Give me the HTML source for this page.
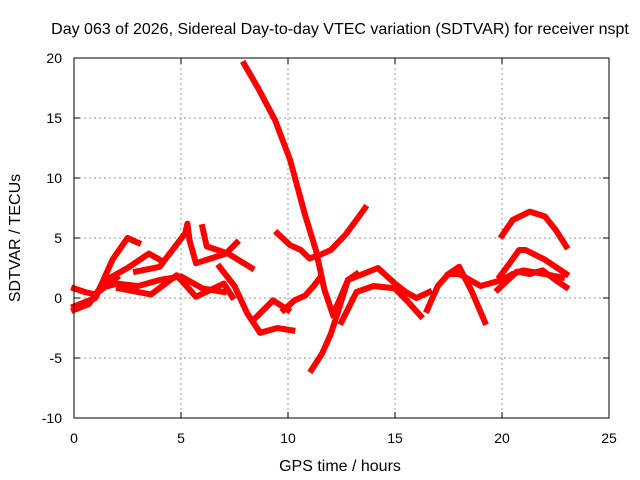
<!DOCTYPE html>
<html><head><meta charset="utf-8"><style>
body{margin:0;background:#fff}
svg{display:block;font-family:"Liberation Sans",sans-serif}
</style></head><body>
<svg id="chart" width="640" height="480" viewBox="0 0 640 480">
<text x="340" y="34" font-size="16" text-anchor="middle">Day 063 of 2026, Sidereal Day-to-day VTEC variation (SDTVAR) for receiver nspt</text>
<text transform="translate(20,238) rotate(-90)" font-size="16" text-anchor="middle">SDTVAR / TECUs</text>
<text x="340" y="471" font-size="16" text-anchor="middle">GPS time / hours</text>
<g id="grid"></g><g id="ticks"></g><g id="series"></g>
<rect x="74" y="58" width="535" height="360" fill="none" stroke="#000" stroke-width="1"/>
</svg>
<script>
const xTicks=[0,5,10,15,20,25];
const yTicks=[-10,-5,0,5,10,15,20];
const trackA_h=[7.95,8.6,9.4,10.1,10.8,11.3,11.7,12.1];
const trackA_v=[19.5,17.5,14.8,11.5,6.9,4.0,0.7,-1.4];
const trackB_h=[11.1,11.6,12.0,12.4,12.8,13.2];
const trackB_v=[-6.0,-4.6,-3.0,-0.8,1.5,2.0];
const trackC_h=[9.5,10.1,10.6,11.0,11.5,12.0,12.7,13.4,13.6];
const trackC_v=[5.4,4.4,4.0,3.3,3.6,4.0,5.3,7.0,7.5];
const trackD_h=[9.8,10.3,10.8,11.2,11.5];
const trackD_v=[-1.0,-0.2,0.2,1.0,1.7];
const trackE_h=[12.2,12.8,13.5,14.2,15.0,15.5,16.0,16.6];
const trackE_v=[-1.0,1.5,2.0,2.5,1.2,0.5,0.0,0.5];
const trackF_h=[12.5,13.2,14.0,15.0,15.6,16.2];
const trackF_v=[-2.0,0.5,1.0,0.8,-0.3,-1.5];
const trackG_h=[16.5,17.0,17.5,18.0,19.0,20.0,20.5,21.0,22.0,22.8];
const trackG_v=[-1.0,1.0,2.0,2.0,1.0,1.5,2.0,2.3,2.0,1.7];
const trackH_h=[20.0,20.5,21.3,22.0,22.5,23.0];
const trackH_v=[5.2,6.5,7.2,6.8,5.7,4.3];
const trackI_h=[19.9,20.4,20.8,21.1,22.0,23.0];
const trackI_v=[1.8,3.0,4.0,4.0,3.2,2.0];
const trackJ_h=[19.8,20.7,21.3,21.9,22.5,23.0];
const trackJ_v=[0.7,2.2,2.0,2.3,1.5,0.9];
const trackK_h=[17.5,18.0,18.6,19.2];
const trackK_v=[2.0,2.6,0.5,-2.0];
const trackL_h=[0.0,1.0,1.8,2.5,3.0];
const trackL_v=[-0.7,0.0,3.2,5.0,4.6];
const trackM_h=[1.5,2.5,3.5,4.0];
const trackM_v=[1.5,2.5,3.7,3.2];
const trackN_h=[2.1,3.6,4.8,5.7,7.0,7.4];
const trackN_v=[0.8,0.3,1.9,0.1,1.2,0.1];
const trackO_h=[2.9,4.0,5.2,5.3,5.4,5.7,7.1,7.6];
const trackO_v=[2.2,2.6,5.4,6.2,4.8,2.9,3.7,4.6];
const trackP_h=[6.0,6.2,7.2,8.3];
const trackP_v=[5.9,4.3,3.7,2.5];
const trackQ_h=[6.8,7.5,8.1,8.7,9.5,10.2];
const trackQ_v=[2.6,1.0,-1.3,-2.9,-2.5,-2.7];
const trackR_h=[8.4,9.3,10.0];
const trackR_v=[-1.8,-0.2,-1.0];
const trackS_h=[0.0,0.7,1.2,2.0,3.0,4.0,5.0,6.0,7.0];
const trackS_v=[-1.0,-0.5,0.8,1.2,1.0,1.5,1.8,0.8,0.5];
const trackT_h=[0.0,0.5,1.0,1.5,2.0];
const trackT_v=[0.8,0.5,0.3,1.0,1.7];
const tracks=[[trackA_h,trackA_v],[trackB_h,trackB_v],[trackC_h,trackC_v],[trackD_h,trackD_v],[trackE_h,trackE_v],[trackF_h,trackF_v],[trackG_h,trackG_v],[trackH_h,trackH_v],[trackI_h,trackI_v],[trackJ_h,trackJ_v],[trackK_h,trackK_v],[trackL_h,trackL_v],[trackM_h,trackM_v],[trackN_h,trackN_v],[trackO_h,trackO_v],[trackP_h,trackP_v],[trackQ_h,trackQ_v],[trackR_h,trackR_v],[trackS_h,trackS_v],[trackT_h,trackT_v]];
const NS="http://www.w3.org/2000/svg";
const X=h=>74+h*535/25, Y=v=>418-(v+10)*12;
function mk(t,p,a){const e=document.createElementNS(NS,t);for(const k in a)e.setAttribute(k,a[k]);p.appendChild(e);return e;}
const grid=document.getElementById('grid'),ticks=document.getElementById('ticks'),ser=document.getElementById('series');
xTicks.forEach(t=>{const x=X(t);
 if(t>0&&t<25){const g=mk('line',grid,{x1:x,y1:58,x2:x,y2:418,stroke:'#999','stroke-dasharray':'2,3'});
 
 }
 mk('line',ticks,{x1:x,y1:418,x2:x,y2:412,stroke:'#000'});mk('line',ticks,{x1:x,y1:58,x2:x,y2:64,stroke:'#000'});
 const l=mk('text',ticks,{x:x,y:443,'font-size':14,'text-anchor':'middle'});l.textContent=t;
 
 });
yTicks.forEach(t=>{const y=Y(t);
 if(t>-10&&t<20){const g=mk('line',grid,{x1:74,y1:y,x2:609,y2:y,stroke:'#999','stroke-dasharray':'2,3'});
 
 }
 mk('line',ticks,{x1:74,y1:y,x2:80,y2:y,stroke:'#000'});mk('line',ticks,{x1:609,y1:y,x2:603,y2:y,stroke:'#000'});
 const l=mk('text',ticks,{x:62,y:y+5,'font-size':14,'text-anchor':'end'});l.textContent=t;
 
 });
tracks.forEach(([hs,vs],i)=>{
 const p=mk('polyline',ser,{points:hs.map((h,j)=>X(h)+','+Y(vs[j])).join(' '),fill:'none',stroke:'#f00','stroke-width':6,'stroke-linejoin':'round','stroke-linecap':'square'});
 
 });
</script>
</body></html>
